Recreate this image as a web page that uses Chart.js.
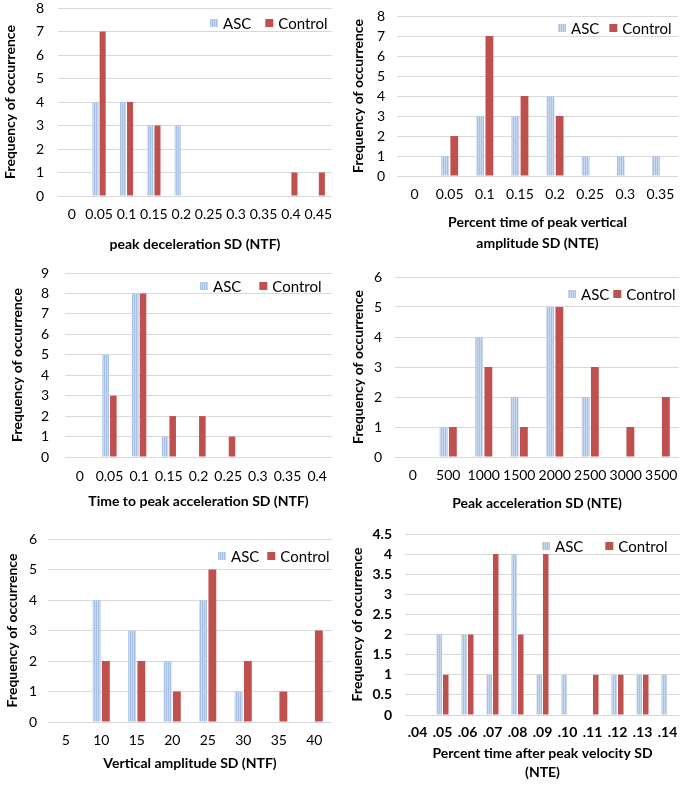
<!DOCTYPE html>
<html>
<head>
<meta charset="utf-8">
<script src="https://cdn.jsdelivr.net/npm/chart.js@4.4.0/dist/chart.umd.min.js"></script>
<style>
  body { margin: 0; background: #fff; }
  .wrap { position: relative; width: 689px; height: 785px; }
  .box { position: absolute; }
</style>
</head>
<body>
<div class="wrap">
  <div class="box" style="left:0;top:0;width:345px;height:262px"><canvas id="c1"></canvas></div>
  <div class="box" style="left:345px;top:0;width:344px;height:262px"><canvas id="c2"></canvas></div>
  <div class="box" style="left:0;top:262px;width:345px;height:262px"><canvas id="c3"></canvas></div>
  <div class="box" style="left:345px;top:262px;width:344px;height:262px"><canvas id="c4"></canvas></div>
  <div class="box" style="left:0;top:524px;width:345px;height:261px"><canvas id="c5"></canvas></div>
  <div class="box" style="left:345px;top:524px;width:344px;height:261px"><canvas id="c6"></canvas></div>
</div>
<script>
// panel 1 - peak deceleration
var decLabels = ['0', '0.05', '0.1', '0.15', '0.2', '0.25', '0.3', '0.35', '0.4', '0.45'];
var decASC = [0, 4, 4, 3, 3, 0, 0, 0, 0, 0];
var decControl = [0, 7, 4, 3, 0, 0, 0, 0, 1, 1];

// panel 2 - percent time of peak vertical amplitude
var ptvLabels = ['0', '0.05', '0.1', '0.15', '0.2', '0.25', '0.3', '0.35'];
var ptvASC = [0, 1, 3, 3, 4, 1, 1, 1];
var ptvControl = [0, 2, 7, 4, 3, 0, 0, 0];

// panel 3 - time to peak acceleration
var tpaLabels = ['0', '0.05', '0.1', '0.15', '0.2', '0.25', '0.3', '0.35', '0.4'];
var tpaASC = [0, 5, 8, 1, 0, 0, 0, 0, 0];
var tpaControl = [0, 3, 8, 2, 2, 1, 0, 0, 0];

// panel 4 - peak acceleration
var paLabels = ['0', '500', '1000', '1500', '2000', '2500', '3000', '3500'];
var paASC = [0, 1, 4, 2, 5, 2, 0, 0];
var paControl = [0, 1, 3, 1, 5, 3, 1, 2];

// panel 5 - vertical amplitude
var vaLabels = ['5', '10', '15', '20', '25', '30', '35', '40'];
var vaASC = [0, 4, 3, 2, 4, 1, 0, 0];
var vaControl = [0, 2, 2, 1, 5, 2, 1, 3];

// panel 6 - percent time after peak velocity
var pvLabels = ['.04', '.05', '.06', '.07', '.08', '.09', '.10', '.11', '.12', '.13', '.14'];
var pvASC = [0, 2, 2, 1, 4, 1, 1, 0, 1, 1, 1];
var pvControl = [0, 1, 2, 4, 2, 4, 0, 1, 1, 1, 0];

var FONT = 'Lato';
var RED = '#c0504d';

// striped light blue fill like the excel ASC bars
function stripes() {
  var c = document.createElement('canvas');
  c.width = 4; c.height = 4;
  var g = c.getContext('2d');
  g.fillStyle = '#a7c1e4';
  g.fillRect(0, 0, 4, 4);
  g.fillStyle = '#c8d9ef';
  g.fillRect(1, 0, 1, 4);
  g.fillRect(3, 0, 1, 4);
  return g.createPattern(c, 'repeat');
}
var ascFill = stripes();

// legend drawn inside the plot, top right, like the original
var innerLegend = {
  id: 'innerLegend',
  afterDraw: function (chart, args, o) {
    var ctx = chart.ctx;
    var items = chart.data.datasets;
    ctx.save();
    ctx.font = '15px ' + FONT;
    ctx.textBaseline = 'middle';
    var x = o.x;
    items.forEach(function (ds, i) {
      ctx.fillStyle = ds.backgroundColor;
      ctx.fillRect(x, o.y - 4, 8, 8);
      x += 13;
      ctx.fillStyle = '#000';
      ctx.fillText(ds.label, x, o.y + 1);
      x += ctx.measureText(ds.label).width + o.gap;
    });
    ctx.restore();
  }
};

function makeChart(id, labels, asc, ctrl, yMax, yStep, xTitle, g) {
  var bold = g.boldTicks ? 'bold' : 'normal';
  return new Chart(document.getElementById(id), {
    type: 'bar',
    data: {
      labels: labels,
      datasets: [
        { label: 'ASC', data: asc, backgroundColor: ascFill, borderWidth: 0 },
        { label: 'Control', data: ctrl, backgroundColor: RED, borderWidth: 0 }
      ]
    },
    plugins: [innerLegend],
    options: {
      responsive: true,
      maintainAspectRatio: false,
      animation: false,
      datasets: { bar: { categoryPercentage: 0.52, barPercentage: 0.85 } },
      layout: { padding: { left: 0, top: g.top, right: g.right, bottom: 0 } },
      plugins: {
        tooltip: { enabled: false },
        legend: { display: false },
        innerLegend: g.legend
      },
      scales: {
        x: {
          grid: { display: false, drawTicks: false },
          border: { display: false },
          ticks: { font: { family: FONT, size: 14, weight: bold }, color: '#000', padding: g.xtp, maxRotation: 0, autoSkip: false },
          title: { display: true, text: xTitle, font: { family: FONT, size: 14, weight: 'bold', lineHeight: g.tlh || 1.2 }, color: '#000', padding: { top: 0, bottom: g.xtb } },
          afterFit: function (s) { s.height = g.xh; s.paddingLeft = 0; s.paddingRight = 0; }
        },
        y: {
          min: 0,
          max: yMax,
          grid: { color: '#d9d9d9', drawTicks: false },
          border: { display: false },
          ticks: {
            stepSize: yStep, autoSkip: false,
            font: { family: FONT, size: 14, weight: bold }, color: '#000', padding: g.ytp,
            callback: function (v) { return String(v); }
          },
          title: { display: true, text: 'Frequency of occurrence', font: { family: FONT, size: 14, weight: 'bold' }, color: '#000', padding: { top: g.ytt, bottom: 0 } },
          afterFit: function (s) { s.width = g.yw; s.paddingTop = 0; s.paddingBottom = 0; }
        }
      }
    }
  });
}

makeChart('c1', decLabels, decASC, decControl, 8, 1, 'peak deceleration SD (NTF)',
  { top: 8, right: 13, yw: 58, xh: 66, xtp: 10, xtb: 9, ytp: 14, ytt: 2, legend: { x: 210, y: 23, gap: 14 } });
makeChart('c2', ptvLabels, ptvASC, ptvControl, 8, 1, ['Percent time of peak vertical', 'amplitude SD (NTE)'],
  { top: 16, right: 11, yw: 52, xh: 86, xtp: 10, xtb: 8, tlh: 1.5, ytp: 12, ytt: 5, legend: { x: 213, y: 28, gap: 10 } });
makeChart('c3', tpaLabels, tpaASC, tpaControl, 9, 1, 'Time to peak acceleration SD (NTF)',
  { top: 11, right: 13, yw: 65, xh: 67, xtp: 11, xtb: 14, ytp: 16, ytt: 9, legend: { x: 200, y: 24, gap: 18 } });
makeChart('c4', paLabels, paASC, paControl, 6, 1, 'Peak acceleration SD (NTE)',
  { top: 15, right: 10, yw: 50, xh: 67, xtp: 10, xtb: 12, ytp: 13, ytt: 5, legend: { x: 223, y: 32, gap: 4 } });
makeChart('c5', vaLabels, vaASC, vaControl, 6, 1, 'Vertical amplitude SD (NTF)',
  { top: 15, right: 13, yw: 48, xh: 63, xtp: 10, xtb: 13, ytp: 11, ytt: 4, legend: { x: 218, y: 32, gap: 8 } });
makeChart('c6', pvLabels, pvASC, pvControl, 4.5, 0.5, ['Percent time after peak velocity SD', '(NTE)'],
  { top: 10, right: 9, yw: 60, xh: 70, xtp: 9, xtb: 3, tlh: 1.36, ytp: 13, ytt: 4, boldTicks: true, legend: { x: 197, y: 22, gap: 22 } });
</script>
</body>
</html>
